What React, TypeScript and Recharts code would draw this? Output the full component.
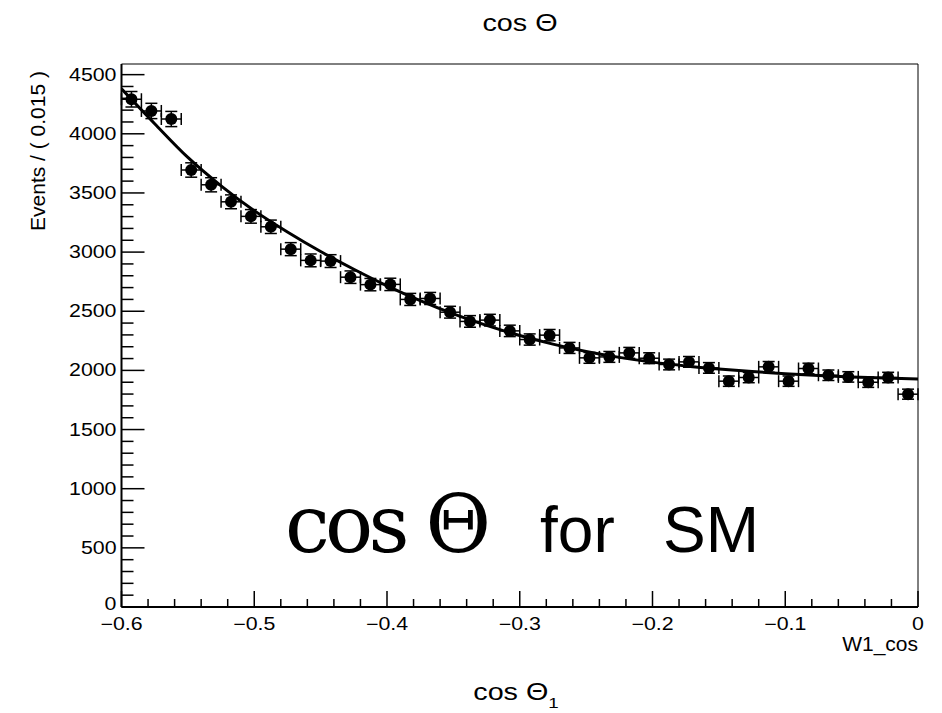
import {
  ComposedChart, Scatter, Line, XAxis, YAxis, ErrorBar, ReferenceArea,
} from 'recharts';

// Bin centres (width 0.015) and event counts
const BIN_CENTERS = [
  -0.5925, -0.5775, -0.5625, -0.5475, -0.5325, -0.5175, -0.5025, -0.4875, -0.4725, -0.4575,
  -0.4425, -0.4275, -0.4125, -0.3975, -0.3825, -0.3675, -0.3525, -0.3375, -0.3225, -0.3075,
  -0.2925, -0.2775, -0.2625, -0.2475, -0.2325, -0.2175, -0.2025, -0.1875, -0.1725, -0.1575,
  -0.1425, -0.1275, -0.1125, -0.0975, -0.0825, -0.0675, -0.0525, -0.0375, -0.0225, -0.0075,
];
const EVENTS = [
  4292, 4193, 4125, 3694, 3569, 3425, 3302, 3214, 3025, 2930,
  2924, 2788, 2725, 2727, 2600, 2608, 2492, 2414, 2425, 2334,
  2261, 2298, 2190, 2106, 2114, 2148, 2103, 2050, 2072, 2021,
  1909, 1940, 2030, 1909, 2016, 1959, 1945, 1900, 1940, 1799,
];
const HALF_BIN = 0.0075;

// Fit curve
const FIT_X = [
  -0.6, -0.575, -0.55, -0.525, -0.5, -0.475, -0.45, -0.425, -0.4, -0.375, -0.35, -0.325, -0.3,
  -0.275, -0.25, -0.225, -0.2, -0.175, -0.15, -0.125, -0.1, -0.075, -0.05, -0.025, 0,
];
const FIT_Y = [
  4380, 4085, 3800, 3560, 3350, 3170, 3005, 2855, 2715, 2590, 2478, 2380, 2295,
  2222, 2160, 2110, 2070, 2038, 2012, 1990, 1972, 1957, 1945, 1935, 1927,
];

const X_MAJOR = [-0.6, -0.5, -0.4, -0.3, -0.2, -0.1, 0];
const Y_MAJOR = [0, 500, 1000, 1500, 2000, 2500, 3000, 3500, 4000, 4500];
const Y_MAX = 4590;

const SANS = 'Liberation Sans, Arial, Helvetica, sans-serif';
const SERIF = 'DejaVu Serif, Liberation Serif, serif';

// minor ticks: 5 subdivisions per major interval
function withMinor(major: number[], sub: number): number[] {
  const out: number[] = [];
  for (let i = 0; i < major.length - 1; i++) {
    const step = (major[i + 1] - major[i]) / sub;
    for (let k = 0; k < sub; k++) out.push(+(major[i] + k * step).toFixed(4));
  }
  out.push(major[major.length - 1]);
  return out;
}
const X_TICKS = withMinor(X_MAJOR, 5);
const Y_TICKS = withMinor(Y_MAJOR, 5);

const isMajor = (arr: number[], v: number) => arr.some(m => Math.abs(m - v) < 1e-6);

const points = BIN_CENTERS.map((x, i) => ({
  x,
  y: EVENTS[i],
  ex: HALF_BIN,
  ey: Math.sqrt(EVENTS[i]), // Poisson errors
}));
const fit = FIT_X.map((x, i) => ({ x, y: FIT_Y[i] }));

const fmtX = (v: number) => (Math.abs(v) < 1e-9 ? '0' : '\u2212' + Math.abs(v).toFixed(1));

const XTick = ({ x, y, payload }: any) => {
  const major = isMajor(X_MAJOR, payload.value);
  return (
    <g>
      <line x1={x} x2={x} y1={y} y2={y - (major ? 16 : 8)} stroke="#000" strokeWidth={1.5} />
      {major && (
        <text transform={`translate(${x},${y + 23}) scale(1.22,1)`} textAnchor="middle"
          fontFamily={SANS} fontSize={17.5} fill="#000">{fmtX(payload.value)}</text>
      )}
    </g>
  );
};

const YTick = ({ x, y, payload }: any) => {
  const major = isMajor(Y_MAJOR, payload.value);
  // the "0" label sits a little higher so it clears the -0.6 label
  const dy = payload.value === 0 ? 3 : 6;
  return (
    <g>
      <line x1={x} x2={x + (major ? 23 : 12)} y1={y} y2={y} stroke="#000" strokeWidth={1.5} />
      {major && (
        <text transform={`translate(${x - 5},${y + dy}) scale(1.22,1)`} textAnchor="end"
          fontFamily={SANS} fontSize={17.5} fill="#000">{payload.value}</text>
      )}
    </g>
  );
};

const Dot = ({ cx, cy }: any) => <circle cx={cx} cy={cy} r={6} fill="#000" />;

const annotations = () => (
  <g fill="#000">
    <text transform="translate(520,31) scale(1.25,1)" textAnchor="middle" fontFamily={SANS} fontSize={23}>
      cos Θ
    </text>
    <text transform="translate(37,71) rotate(-90)" textAnchor="end" fontFamily={SANS} fontSize={21}
      dominantBaseline="central">
      Events / ( 0.015 )
    </text>
    <text x={918} y={651} textAnchor="end" fontFamily={SANS} fontSize={21}>W1_cos</text>
    <text transform="translate(516,700) scale(1.25,1)" textAnchor="middle" fontFamily={SANS} fontSize={23}>
      cos Θ<tspan fontSize={15} dy={8}>1</tspan>
    </text>
    {/* big in-plot caption */}
    <text x={285} y={552} fontFamily={SERIF} fontSize={80} textLength={206}>cos Θ</text>
    <text x={540} y={552} fontFamily={SANS} fontSize={64}>
      for<tspan x={663}>SM</tspan>
    </text>
  </g>
);

export default function App() {
  return (
    <div style={{ position: 'absolute', left: 0, top: 0, background: '#fff' }}>
      <ComposedChart width={942} height={713} margin={{ top: 64, right: 24, bottom: 66, left: 61.5 }}>
        <XAxis
          type="number" dataKey="x" domain={[-0.6, 0]} ticks={X_TICKS} interval={0}
          tick={<XTick />} tickLine={false} tickSize={0} tickMargin={0} height={40}
          axisLine={{ stroke: '#000', strokeWidth: 2 }} allowDataOverflow
          label={annotations}
        />
        <YAxis
          type="number" dataKey="y" domain={[0, Y_MAX]} ticks={Y_TICKS} interval={0}
          tick={<YTick />} tickLine={false} tickSize={0} tickMargin={0} width={60}
          axisLine={{ stroke: '#000', strokeWidth: 2 }} allowDataOverflow
        />
        <ReferenceArea x1={-0.6} x2={0} y1={0} y2={Y_MAX} fill="none" stroke="#000" strokeWidth={1}
          ifOverflow="visible" />
        <Scatter data={points} shape={<Dot />} isAnimationActive={false}>
          <ErrorBar dataKey="ey" direction="y" width={6} stroke="#000" strokeWidth={1.5} isAnimationActive={false} />
          <ErrorBar dataKey="ex" direction="x" width={6} stroke="#000" strokeWidth={1.5} isAnimationActive={false} />
        </Scatter>
        <Line data={fit} dataKey="y" type="monotone" stroke="#000" strokeWidth={3} dot={false}
          activeDot={false} isAnimationActive={false} />
      </ComposedChart>
    </div>
  );
}
